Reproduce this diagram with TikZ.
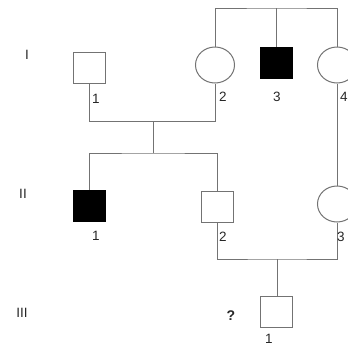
\documentclass[tikz,border=0pt]{standalone}
\usepackage{fontspec}
\setmainfont{Liberation Sans}
\usetikzlibrary{shapes.geometric}
\begin{document}
\begin{tikzpicture}[x=1pt,y=-1pt,
  line/.style={draw=black!55,line width=1pt},
  male/.style={rectangle,draw=black!55,line width=1pt,fill=white,minimum width=32pt,minimum height=31pt,inner sep=0pt},
  maleaff/.style={rectangle,fill=black,draw=black,line width=0.6pt,minimum width=32pt,minimum height=31pt,inner sep=0pt},
  female/.style={ellipse,draw=black!55,line width=1pt,fill=white,minimum width=39pt,minimum height=36pt,inner sep=0pt},
  lab/.style={font=\fontsize{13.5}{13.5}\selectfont,text=black!85,inner sep=0pt},
  gen/.style={font=\fontsize{13.5}{13.5}\selectfont,text=black!85,inner sep=0pt}]
\useasboundingbox (0,0) rectangle (348,349);
% individuals
\node[male] (i1) at (89.5,67.5) {};
\node[female] (i2) at (215,65) {};
\node[maleaff] (i3) at (276,62.5) {};
\node[female] (i4) at (337,65) {};
\node[maleaff] (ii1) at (89.5,205.5) {};
\node[male] (ii2) at (217.5,206.5) {};
\node[female] (ii3) at (337,204) {};
\node[male] (iii1) at (276.5,312) {};
% coordinates
\coordinate (tb) at (277,8);
\coordinate (m1) at (153,121.5);
\coordinate (sib) at (153,153);
\coordinate (m2) at (277,259);
% connectors
\draw[line] (i2.north) |- (tb) -| (i4.north);
\draw[line] (i3.north) -- (i3.north |- tb);
\draw[line] (i1.south) |- (m1) -| (i2.south);
\draw[line] (m1) -- (sib);
\draw[line] (ii1.north) |- (sib) -| (ii2.north);
\draw[line] (i4.south) -- (ii3.north);
\draw[line] (ii2.south) |- (m2) -| (ii3.south);
\draw[line] (m2) -- (m2 |- iii1.north);
% labels
\node[lab] (l-i1) at (96,99) {1};
\node[lab] (l-i2) at (223,97) {2};
\node[lab] (l-i3) at (277,97) {3};
\node[lab] (l-i4) at (344,97) {4};
\node[lab] (l-ii1) at (96,236) {1};
\node[lab] (l-ii2) at (223,237) {2};
\node[lab] (l-ii3) at (341,237) {3};
\node[lab] (l-iii1) at (269,339) {1};
\node[lab,font=\fontsize{14}{14}\selectfont\bfseries] (q) at (231,316) {?};
\node[gen] (g1) at (27,55) {I};
\node[gen] (g2) at (23,194) {II};
\node[gen] (g3) at (22,313) {III};
\end{tikzpicture}
\end{document}
